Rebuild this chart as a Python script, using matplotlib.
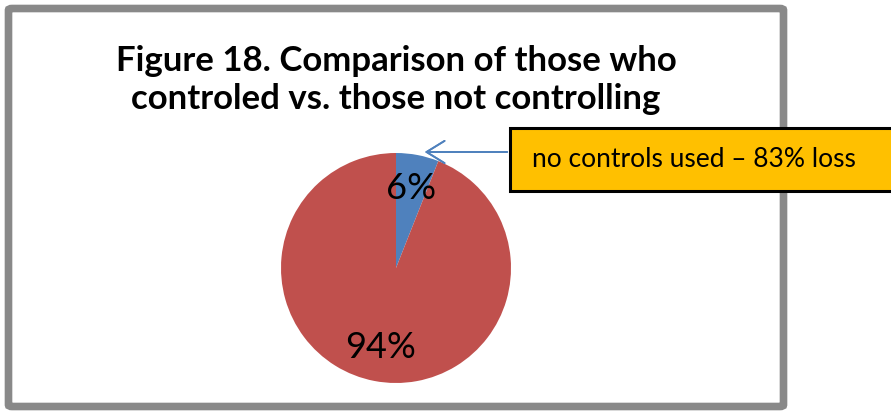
import matplotlib
matplotlib.use("Agg")
import matplotlib.pyplot as plt
from matplotlib.patches import FancyBboxPatch, Rectangle

plt.rcParams['font.family'] = ['Lato', 'DejaVu Sans']

# data
labels = ["controls used", "no controls used"]
values = [6, 94]
colors = ["#4F81BD", "#C0504D"]
title = "Figure 18. Comparison of those who\ncontroled vs. those not controlling"
callout = "no controls used \u2013 83% loss"

W, H = 891, 411
fig = plt.figure(figsize=(W / 100, H / 100), dpi=100)
fig.patch.set_facecolor("white")

# chart frame (grey border)
frame = FancyBboxPatch((8.5 / W, 4.5 / H), 775 / W, 398 / H,
                       boxstyle="round,pad=0,rounding_size=0.004",
                       transform=fig.transFigure, fill=False,
                       ec="#898989", lw=5.5)
fig.add_artist(frame)

fig.text(396 / W, 1 - 80 / H, title, ha="center", va="center",
         fontsize=25, fontweight="bold", linespacing=1.2)

# pie, centre (396, 268), radius 115 px
cx, cy, r = 396, 268, 115
ax = fig.add_axes([(cx - r) / W, (H - cy - r) / H, 2 * r / W, 2 * r / H])
ax.pie(values, colors=colors, startangle=90, counterclock=False,
       autopct="%1.0f%%", pctdistance=0.7,
       textprops=dict(fontsize=26, color="black"),
       wedgeprops=dict(linewidth=0))
ax.set_xlim(-1, 1)
ax.set_ylim(-1, 1)
ax.set_aspect("equal")
ax.axis("off")

# callout box
box = Rectangle((510 / W, (H - 191) / H), 400 / W, 63 / H,
                transform=fig.transFigure, fc="#FFC000", ec="black",
                lw=2.2, clip_on=False)
fig.add_artist(box)
fig.text(532 / W, 1 - 159 / H, callout, ha="left", va="center",
         fontsize=19)

# arrow to blue slice
fig.add_artist(plt.annotate("", xy=(422, H - 152), xytext=(510, H - 152),
               xycoords="figure pixels", textcoords="figure pixels",
               arrowprops=dict(arrowstyle="->,head_length=1.3,head_width=0.8",
                               color="#4F81BD", lw=1.3)))

fig.savefig("out.png", dpi=100)
